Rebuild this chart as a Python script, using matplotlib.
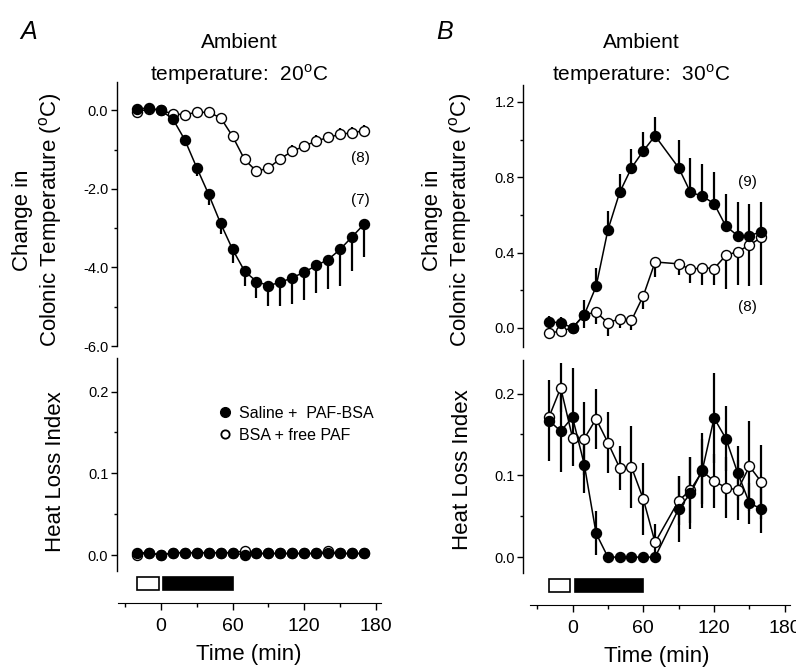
import matplotlib
matplotlib.use("Agg")
import matplotlib.pyplot as plt
from matplotlib.ticker import MultipleLocator, FixedLocator, FormatStrFormatter
from matplotlib.lines import Line2D
from matplotlib.patches import Rectangle

plt.rcParams['font.family'] = ['Liberation Sans', 'DejaVu Sans']
plt.rcParams['mathtext.fontset'] = 'custom'
plt.rcParams['mathtext.rm'] = 'Liberation Sans'

# ---- panel A (20 C) ----
time_a = [-20, -10, 0, 10, 20, 30, 40, 50, 60, 70, 80, 90, 100, 110, 120, 130, 140, 150, 160, 170]
temp_a_paf = [0.04, 0.06, 0.0, -0.22, -0.75, -1.46, -2.14, -2.88, -3.54, -4.09,
              -4.36, -4.46, -4.38, -4.26, -4.12, -3.95, -3.80, -3.54, -3.22, -2.90]
temp_a_paf_err = [0.05, 0.05, 0.05, 0.08, 0.12, 0.22, 0.26, 0.27, 0.35, 0.38,
                  0.43, 0.52, 0.60, 0.66, 0.70, 0.71, 0.76, 0.93, 0.86, 0.83]
temp_a_free = [-0.04, 0.04, 0.0, -0.09, -0.11, -0.05, -0.05, -0.19, -0.66, -1.25,
               -1.55, -1.47, -1.23, -1.04, -0.91, -0.78, -0.69, -0.61, -0.57, -0.52]
temp_a_free_err = [0.05, 0.05, 0.05, 0.05, 0.05, 0.05, 0.05, 0.05, 0.08, 0.08,
                   0.10, 0.12, 0.13, 0.15, 0.14, 0.15, 0.15, 0.15, 0.15, 0.15]
hli_a_paf = [0.003, 0.003, 0.0, 0.003, 0.003, 0.003, 0.003, 0.003, 0.003, 0.0,
             0.002, 0.002, 0.002, 0.002, 0.002, 0.002, 0.002, 0.002, 0.002, 0.002]
hli_a_free = [0.0, 0.003, 0.0, 0.003, 0.003, 0.003, 0.003, 0.003, 0.003, 0.005,
              0.002, 0.002, 0.002, 0.002, 0.002, 0.002, 0.005, 0.002, 0.002, 0.002]

# ---- panel B (30 C) ----
time_b = [-20, -10, 0, 10, 20, 30, 40, 50, 60, 70, 90, 100, 110, 120, 130, 140, 150, 160]
temp_b_paf = [0.032, 0.027, 0.0, 0.07, 0.22, 0.52, 0.72, 0.85, 0.94, 1.02,
              0.85, 0.72, 0.70, 0.66, 0.54, 0.49, 0.49, 0.51]
temp_b_paf_err = [0.03, 0.03, 0.0, 0.08, 0.10, 0.10, 0.10, 0.10, 0.10, 0.10,
                  0.15, 0.18, 0.17, 0.17, 0.17, 0.18, 0.17, 0.16]
temp_b_free = [-0.027, -0.018, 0.0, 0.07, 0.083, 0.027, 0.048, 0.04, 0.17, 0.35,
               0.34, 0.31, 0.32, 0.315, 0.385, 0.405, 0.44, 0.48]
temp_b_free_err = [0.0, 0.0, 0.0, 0.07, 0.06, 0.07, 0.05, 0.05, 0.07, 0.08,
                   0.06, 0.07, 0.09, 0.09, 0.18, 0.18, 0.22, 0.25]
hli_b_paf = [0.167, 0.154, 0.171, 0.113, 0.029, 0.0, 0.0, 0.0, 0.0, 0.0,
             0.059, 0.078, 0.106, 0.170, 0.145, 0.103, 0.066, 0.059]
hli_b_paf_err = [0.05, 0.05, 0.06, 0.035, 0.027, 0.0, 0.0, 0.0, 0.0, 0.0,
                 0.04, 0.044, 0.046, 0.055, 0.04, 0.033, 0.025, 0.03]
hli_b_free = [0.171, 0.207, 0.146, 0.145, 0.169, 0.140, 0.109, 0.110, 0.071, 0.018,
              0.069, 0.082, 0.105, 0.093, 0.085, 0.082, 0.111, 0.092]
hli_b_free_err = [0.0, 0.03, 0.0, 0.045, 0.037, 0.037, 0.027, 0.05, 0.044, 0.022,
                  0.03, 0.04, 0.04, 0.033, 0.037, 0.037, 0.055, 0.045]

vehicle_bar = (-20, -2)   # open bar
infusion_bar = (2, 60)    # filled bar

fig = plt.figure(figsize=(7.96, 6.69), dpi=100)

MS = 7.2
LW = 1.1
ELW = 1.6


def style_y(ax, major, minor, fmt):
    for s in ['top', 'right', 'bottom']:
        ax.spines[s].set_visible(False)
    ax.spines['left'].set_linewidth(1.0)
    ax.yaxis.set_major_locator(FixedLocator(major))
    ax.yaxis.set_minor_locator(FixedLocator(minor))
    ax.yaxis.set_major_formatter(FormatStrFormatter(fmt))
    ax.tick_params(axis='y', which='major', direction='out', length=4, width=1, labelsize=10.5, pad=2)
    ax.tick_params(axis='y', which='minor', direction='out', length=2.5, width=1)


def series(ax, t, y, err, filled, one_sided=None):
    if one_sided == 'up':
        yerr = [[0] * len(err), err]
    elif one_sided == 'down':
        yerr = [err, [0] * len(err)]
    else:
        yerr = err
    ax.errorbar(t, y, yerr=yerr, fmt='none', ecolor='black', elinewidth=ELW, capsize=0, zorder=2)
    ax.plot(t, y, '-', color='black', lw=LW, marker='o', ms=MS,
            mfc='black' if filled else 'white', mec='black', mew=1.0, zorder=3)


def top_panel(rect, xlim, ylim, major, minor):
    ax = fig.add_axes(rect)
    ax.set_xlim(*xlim)
    ax.set_ylim(*ylim)
    style_y(ax, major, minor, '%.1f')
    ax.set_xticks([])
    return ax


def bottom_panel(rect, xlim):
    ax = fig.add_axes(rect)
    ax.set_xlim(*xlim)
    ax.set_ylim(-0.0585, 0.241)
    style_y(ax, [0.0, 0.1, 0.2], [0.05, 0.15], '%.1f')
    ax.spines['left'].set_bounds(-0.02, 0.241)
    ax.spines['bottom'].set_visible(True)
    ax.spines['bottom'].set_bounds(-36, 184)
    ax.xaxis.set_major_locator(MultipleLocator(60))
    ax.xaxis.set_minor_locator(MultipleLocator(30))
    ax.tick_params(axis='x', which='major', direction='out', length=5, width=1, labelsize=14, pad=6)
    ax.tick_params(axis='x', which='minor', direction='out', length=3, width=1)
    ax.set_xlabel('Time (min)', fontsize=16, labelpad=6)
    # treatment bars
    ax.add_patch(Rectangle((vehicle_bar[0], -0.043), vehicle_bar[1] - vehicle_bar[0], 0.016,
                           facecolor='white', edgecolor='black', lw=1.2, clip_on=False))
    ax.add_patch(Rectangle((infusion_bar[0], -0.043), infusion_bar[1] - infusion_bar[0], 0.016,
                           facecolor='black', edgecolor='black', lw=1.2, clip_on=False))
    return ax


# Panel A
axA1 = top_panel([0.1466, 0.4828, 0.3317, 0.3951], (-37, 184), (-6.0, 0.73),
                 [-6.0, -4.0, -2.0, 0.0], [-5.0, -3.0, -1.0])
series(axA1, time_a, temp_a_free, temp_a_free_err, False, 'up')
series(axA1, time_a, temp_a_paf, temp_a_paf_err, True, 'down')
axA1.text(167, -1.22, '(8)', fontsize=11, ha='center', va='center')
axA1.text(167, -2.28, '(7)', fontsize=11, ha='center', va='center')

axA2 = bottom_panel([0.1466, 0.0987, 0.3317, 0.3662], (-37, 184))
axA2.plot(time_a, hli_a_free, '-', color='black', lw=LW, marker='o', ms=MS, mfc='white', mec='black', zorder=3)
axA2.plot(time_a, hli_a_paf, '-', color='black', lw=LW, marker='o', ms=MS, mfc='black', mec='black', zorder=4)
handles = [Line2D([], [], ls='none', marker='o', ms=7, mfc='black', mec='black'),
           Line2D([], [], ls='none', marker='o', ms=6, mfc='white', mec='black', mew=1.3)]
axA2.legend(handles, ['Saline +  PAF-BSA', 'BSA + free PAF'], loc='center left',
            bbox_to_anchor=(0.355, 0.73), frameon=False, fontsize=11.5,
            handlelength=0.8, handletextpad=0.5, borderpad=0, labelspacing=0.45)

# Panel B
axB1 = top_panel([0.6570, 0.4818, 0.3364, 0.3911], (-42, 185), (-0.1, 1.29),
                 [0.0, 0.4, 0.8, 1.2], [0.2, 0.6, 1.0])
series(axB1, time_b, temp_b_free, temp_b_free_err, False, 'down')
series(axB1, time_b, temp_b_paf, temp_b_paf_err, True, 'up')
axB1.text(148, 0.775, '(9)', fontsize=11, ha='center', va='center')
axB1.text(148, 0.113, '(8)', fontsize=11, ha='center', va='center')

axB2 = bottom_panel([0.6570, 0.0957, 0.3364, 0.3662], (-42, 185))
series(axB2, time_b, hli_b_free, hli_b_free_err, False)
series(axB2, time_b, hli_b_paf, hli_b_paf_err, True)

deg = '$^{\\mathrm{o}}$'

# y labels
fig.text(38 / 796, 1 - 220 / 669, 'Change in\nColonic Temperature (' + deg + 'C)', rotation=90,
         ha='center', va='center', fontsize=16, multialignment='center', linespacing=1.25)
fig.text(56 / 796, 1 - 472 / 669, 'Heat Loss Index', rotation=90, ha='center', va='center', fontsize=16)
fig.text(448 / 796, 1 - 220 / 669, 'Change in\nColonic Temperature (' + deg + 'C)', rotation=90,
         ha='center', va='center', fontsize=16, multialignment='center', linespacing=1.25)
fig.text(462 / 796, 1 - 470 / 669, 'Heat Loss Index', rotation=90, ha='center', va='center', fontsize=16)

# titles and panel letters
fig.text(239 / 796, 1 - 42 / 669, 'Ambient', ha='center', va='center', fontsize=15)
fig.text(239 / 796, 1 - 75 / 669, 'temperature:  20' + deg + 'C', ha='center', va='center', fontsize=15)
fig.text(641 / 796, 1 - 42 / 669, 'Ambient', ha='center', va='center', fontsize=15)
fig.text(641 / 796, 1 - 75 / 669, 'temperature:  30' + deg + 'C', ha='center', va='center', fontsize=15)
fig.text(29 / 796, 1 - 32 / 669, 'A', ha='center', va='center', fontsize=18, style='italic')
fig.text(445 / 796, 1 - 32 / 669, 'B', ha='center', va='center', fontsize=18, style='italic')

fig.savefig('out.png', dpi=100)
